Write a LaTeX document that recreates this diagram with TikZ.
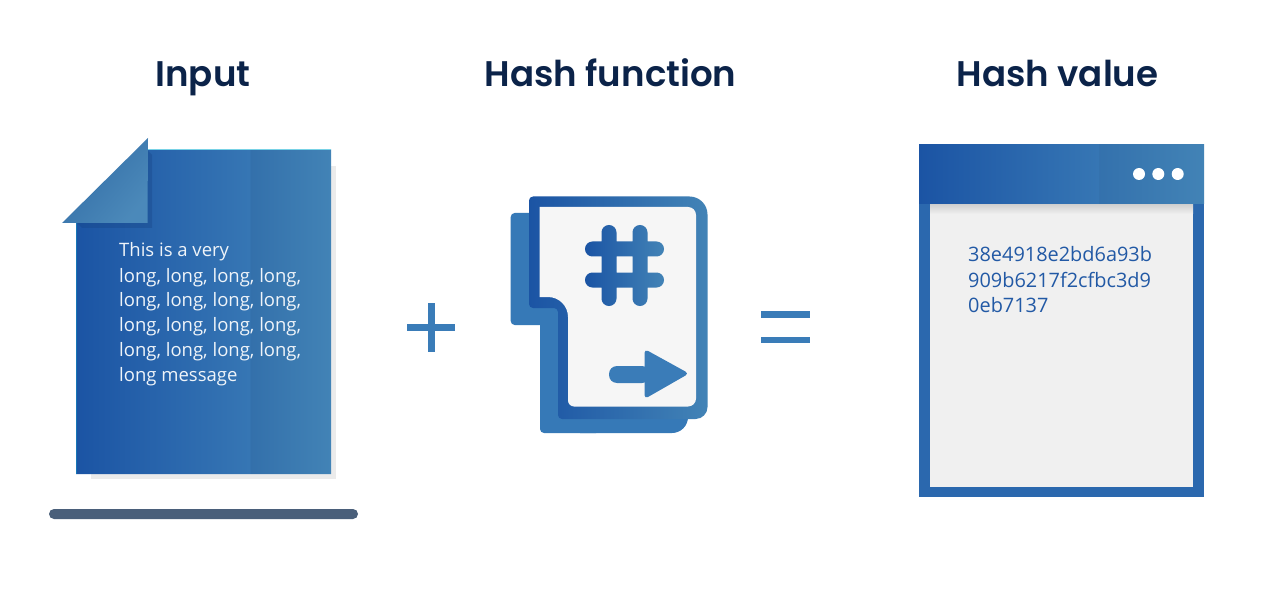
\documentclass[tikz,border=0pt]{standalone}
\usepackage{fontspec}
\setmainfont{Open Sans}
\newfontfamily\headfont{Poppins}[BoldFont={Poppins SemiBold}]
\definecolor{headc}{HTML}{0B2349}
\definecolor{gL}{HTML}{1B54A4}
\definecolor{gM}{HTML}{3676B4}
\definecolor{gR}{HTML}{4283B6}
\definecolor{opc}{HTML}{3A7CB8}
\definecolor{backc}{HTML}{3679B7}
\definecolor{barc}{HTML}{4A5F7A}
\definecolor{shadowc}{HTML}{EBEBEB}
\definecolor{panelc}{HTML}{F0F0F0}
\definecolor{hashtxt}{HTML}{2259A5}
\pgfdeclarehorizontalshading{docshade}{100bp}{color(0bp)=(gL);color(25bp)=(gL);color(59bp)=(gM);color(59.2bp)=(gM!95!black);color(75bp)=(gR);color(100bp)=(gR)}
\pgfdeclarehorizontalshading{winshade}{100bp}{color(0bp)=(gL);color(25bp)=(gL);color(56.4bp)=(gM);color(56.6bp)=(gM!96!black);color(75bp)=(gR);color(100bp)=(gR)}
\pgfdeclarehorizontalshading{iconshade}{100bp}{color(0bp)=(gL);color(25bp)=(gL);color(75bp)=(gR);color(100bp)=(gR)}
\tikzset{
  heading/.style={font=\headfont\bfseries\fontsize{35.6}{36}\selectfont,text=headc,inner sep=0pt,anchor=base},
  bodytext/.style={font=\fontsize{18.5}{25.4}\selectfont,align=left,inner sep=0pt,anchor=north west},
  opbar/.style={fill=opc,draw=none},
}
\begin{document}
\begin{tikzpicture}[x=1pt,y=-1pt]
\useasboundingbox (0,0) rectangle (1268,612);
\fill[white] (0,0) rectangle (1268,612);
% headings
\node[heading] (hin) at (203,87) {Input};
\node[heading] (hfn) at (610.5,87) {Hash function};
\node[heading] (hval) at (1057.5,86.5) {Hash value};
% input document
\fill[shadowc] (300,166) rectangle (336,478.5);
\fill[shadowc] (91,400) rectangle (336,478.5);
\shade[shading=docshade] (148,149.5) -- (331,149.5) -- (331,474) -- (76,474) -- (76,223) -- cycle;
\fill[gM!55!cyan!60!white] (148,149) rectangle (331,150.2);
\fill[gL!80!cyan] (76,223) rectangle (77,474);
\fill[gL!80!black,opacity=.35] (147,150) -- (152,155) -- (152,228) -- (82,228) -- (77,223) -- cycle;
\shade[left color=gM!92!black,right color=gR!95!white,shading angle=50] (62,223) -- (148,138) -- (147.5,223) -- cycle;
\node[bodytext,text=white!92!gM] (msg) at (119,242) {This is a very\\[1.2pt]long, long, long, long,\\[-2pt]long, long, long, long,\\long, long, long, long,\\[-0.6pt]long, long, long, long,\\long message};
\fill[barc,rounded corners=5pt] (49,509) rectangle (358,519);
% plus
\fill[opbar] (407,323.5) rectangle (455,330.5);
\fill[opbar] (427.5,303) rectangle (434.5,352);
% hash function icon
\fill[backc] [rounded corners=4pt] (510.7,213) -- (560,213) -- (560,325) -- (510.7,325) -- cycle;
\fill[backc] [rounded corners=4pt] (540,320) -- (600,320) -- (600,433) -- (540,433) -- cycle;
\fill[backc] [sharp corners] (580,400) [rounded corners=16pt] -- (688,400) -- (688,433) [sharp corners] -- (580,433) -- cycle;
\shade[shading=iconshade] [rounded corners=4pt] (529,196.5) [rounded corners=18pt] -- (707.5,196.5) [rounded corners=12pt] -- (707.5,419) [rounded corners=4pt] -- (558,419) -- (558,308) -- (529,308) -- cycle;
\fill[white!96.5!black] [rounded corners=2pt] (539.5,207) [rounded corners=8pt] -- (696,207) -- (696,406.5) [rounded corners=6pt] -- (568,406.5) [rounded corners=20pt] -- (568,297) [sharp corners] -- (539.5,297) -- cycle;
% hash sign
\shade[shading=iconshade,rounded corners=7.4pt]
  (585,241.5) -- (664,241.5) -- (664,256.5) -- (585,256.5) -- cycle
  (585,272.5) -- (664,272.5) -- (664,287.5) -- (585,287.5) -- cycle
  (601.5,225) -- (616.5,225) -- (616.5,306) -- (601.5,306) -- cycle
  (632.5,225) -- (647.5,225) -- (647.5,306) -- (632.5,306) -- cycle;
% arrow
\fill[opc,rounded corners=8pt] (609,366) rectangle (650,383);
\fill[opc,rounded corners=4pt] (644.5,349) -- (689,373.5) -- (644.5,399) -- cycle;
% equals
\fill[opbar] (761,311) rectangle (810,317.5);
\fill[opbar] (761,336.5) rectangle (810,343);
% hash value window
\fill[gL!40!gM] (919,200) rectangle (1204,497);
\fill[panelc] (930,204) rectangle (1193,487);
\shade[top color=black!14!panelc,bottom color=panelc] (930,204) rectangle (1193,214);
\shade[shading=winshade] (919,144.5) rectangle (1204,204);
\fill[white] (1139,174) circle[radius=6];
\fill[white] (1158.3,174) circle[radius=6];
\fill[white] (1177.7,174) circle[radius=6];
\node[bodytext,text=hashtxt,font=\fontsize{19.9}{25.7}\selectfont] (hv) at (968,246) {38e4918e2bd6a93b\\909b6217f2cfbc3d9\\0eb7137};
\end{tikzpicture}
\end{document}
